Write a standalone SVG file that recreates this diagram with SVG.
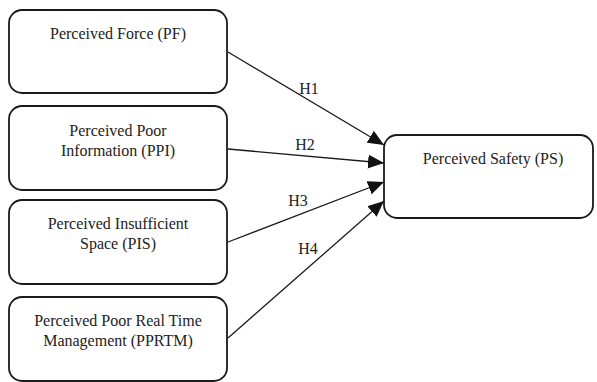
<svg xmlns="http://www.w3.org/2000/svg" width="597" height="382" viewBox="0 0 597 382">
<style>
.box{fill:#fff;stroke:#1a1a1a;stroke-width:1.8}
.t{font-family:"Liberation Serif","Times New Roman",serif;font-size:16px;fill:#222;text-anchor:middle}
.c{stroke:#1a1a1a;stroke-width:1.3;fill:none}
</style>
<defs>
<marker id="ah" markerUnits="userSpaceOnUse" markerWidth="16" markerHeight="14" viewBox="0 0 16 14" refX="16" refY="7" orient="auto">
<path d="M0,0 L16,7 L0,14 Z" fill="#111"/>
</marker>
</defs>
<rect width="597" height="382" fill="#fff"/>
<g id="PF"><rect class="box" x="9" y="10" width="218" height="83" rx="13"/><text class="t" x="118" y="39">Perceived Force (PF)</text></g>
<g id="PPI"><rect class="box" x="9" y="106" width="218" height="84" rx="13"/><text class="t" x="118" y="136">Perceived Poor</text><text class="t" x="118" y="156">Information (PPI)</text></g>
<g id="PIS"><rect class="box" x="9" y="200" width="218" height="84" rx="13"/><text class="t" x="118" y="229">Perceived Insufficient</text><text class="t" x="118" y="249">Space (PIS)</text></g>
<g id="PPRTM"><rect class="box" x="9" y="297" width="218" height="84" rx="13"/><text class="t" x="118" y="326">Perceived Poor Real Time</text><text class="t" x="118" y="346">Management (PPRTM)</text></g>
<g id="PS"><rect class="box" x="384" y="135" width="209" height="83" rx="13"/><text class="t" x="493" y="164">Perceived Safety (PS)</text></g>
<g id="connectors">
<line class="c" x1="228" y1="52" x2="384" y2="145" marker-end="url(#ah)"/>
<line class="c" x1="228" y1="149" x2="384" y2="163" marker-end="url(#ah)"/>
<line class="c" x1="228" y1="242" x2="384" y2="182" marker-end="url(#ah)"/>
<line class="c" x1="228" y1="338" x2="384" y2="201" marker-end="url(#ah)"/>
<text class="t" x="309" y="94">H1</text>
<text class="t" x="305" y="150">H2</text>
<text class="t" x="298" y="206">H3</text>
<text class="t" x="308" y="254">H4</text>
</g>
</svg>
